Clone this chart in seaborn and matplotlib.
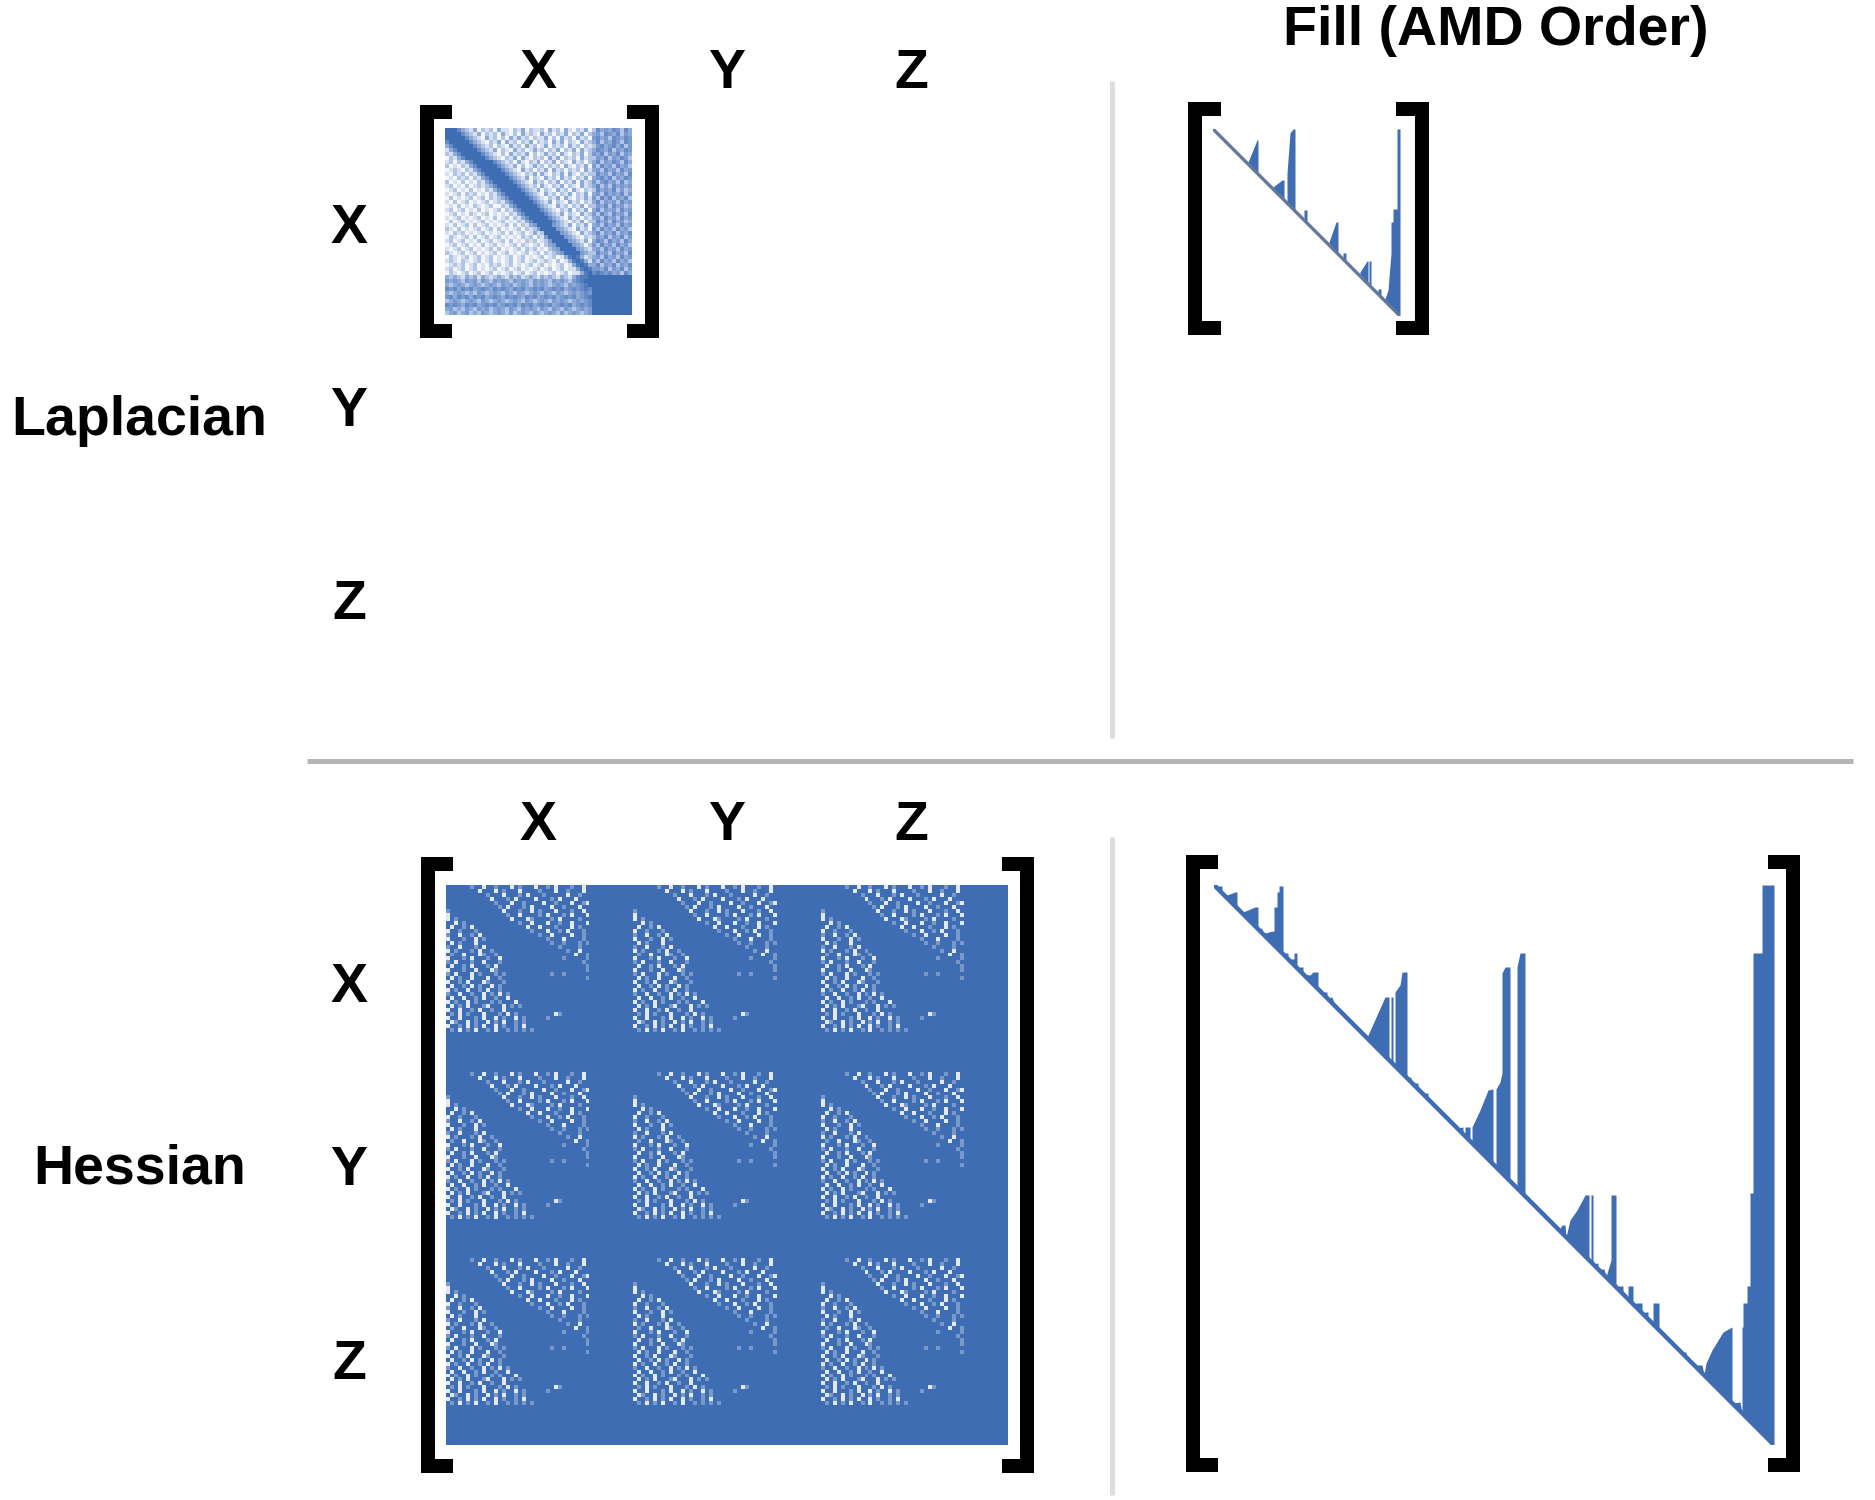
import numpy as np
import matplotlib
matplotlib.use('Agg')
import matplotlib.pyplot as plt
from matplotlib.colors import LinearSegmentedColormap
from matplotlib.patches import Rectangle
import seaborn as sns

BLUE = '#3f6db4'

# nonzero density of the Laplacian X block, 0-9 per cell
laplacian_rows = [
    "9997543524342533243524334253425324352" "4756576475",
    "9999754352434253242534325342435243524" "5647657465",
    "9999975432534242535342433524253425342" "6756476576",
    "7999997543243525342435243425352432534" "5746576476",
    "5799999754342432534253423524342534243" "4675675746",
    "3579999975435243253423534243524352534" "5765746576",
    "4357999997543242534352423534253243524" "6574657465",
    "2435799999754324352532434253524342534" "4657465764",
    "3424357999997543425324352435243253424" "5746576475",
    "4232435799999754352423534243425324352" "6475647564",
    "2343243579999975432534243525342434253" "5647564756",
    "3243424357999997543243525324352532434" "4756475647",
    "2324342435799999754352432534253424352" "5675746576",
    "4232423243579999975432534243524352534" "6467564745",
    "3423242343457999997543425324352432534" "5746475656",
    "2342324232435799999754352432534253243" "4756574645",
    "3234243423243579999975432534243524352" "5647565746",
    "2423234234243457999997543243525324353" "6475746574",
    "3242342323423435799999754352432534243" "5746564756",
    "2324232432342243579999975432534243524" "4657475645",
    "3423423242323424357999997543243524352" "5746564756",
    "2342324323423232435799999754352432534" "6475475647",
    "3234232342324234243579999975432534243" "5647564756",
    "2423423234232342324357999997543243524" "4756475645",
    "3242342423423234242435699996543524352" "5647564756",
    "4324232342342423234243469999654325342" "6475647564",
    "3243423234232342423423534999965432534" "5746574657",
    "2432342423423423232434243699996543243" "4657465746",
    "3423423242342342423243423469999654352" "5764756475",
    "2342342324234232342432342456999965424" "6475647564",
    "3234234232342423234243423245699996543" "5647564756",
    "4323423423234234232342342434569999654" "4756475647",
    "2432342342342323423423234234235898534" "5647564756",
    "3432432342342323423423423432423589853" "6475647564",
    "2343423423243423423234234232342358985" "5746574657",
    "3423423423234234234232342342342335898" "6657465746",
    "2432342342342323423423423234234233589" "7876756475",
    "5454354535434543545345435454354357889" "9999999999",
    "6565465646546565465654656546565467899" "9999999999",
    "5456545654565465645654656545654656789" "9999999999",
    "7675767567657676576756767567675676787" "9999999999",
    "5456545465456546546545654654654565676" "9999999999",
    "6757675767567657676576756767567675678" "9999999999",
    "4565456546545654565465456546565456567" "9999999999",
    "7676576756767567675767567675676756767" "9999999999",
    "5645465465645654654656546546546545656" "9999999999",
    "4564564546545654645654654565464565456" "9999999999",
]

# one Hessian block, speckled part only: '.' filled, '+' partly, 'o' empty
hessian_rows = [
    "......+..o..+...o.+...o..+.o...+..o..",
    "........o...o.+...o....+...o..+...o..",
    "..........+...o...+.o...+.....o..+...",
    "...........o...+.o....o...+.o...o....",
    "............+...o..+....o..+...o..+o.",
    ".............+.o...+.o....o..+...o...",
    "+.............o...+..o.+...o...+..o..",
    "o..............+..o....+.o...+.o...o.",
    "o.+.............o...o+....+.o....+...",
    "..o.+.............+..o...o..+..o...o.",
    ".o..+.o.............o..o...+...o.+...",
    "o..+...+.............+...o..+.o...+..",
    "+..o..+.o..............+..o....o..+..",
    "o...+..o.+...............+...o....+..",
    ".o.+...o..................+..+...+.+.",
    "+..o...+.o..................+....+...",
    "o.+...+.o..+..................+..o...",
    ".+..o...o+..+...................o..+.",
    "o...+.o...+..o...............+.....+.",
    "+.o...+..o...+....................+..",
    ".o..+.o...+.o......................+.",
    "o...+..o...o+......................+.",
    "+.o...o.+...+.+...........+..+.......",
    ".o.+..o...o..+.....................+.",
    "o..+.o...o+...+......................",
    ".o..+.o.+..o.+.......................",
    "o.+..o..+.o..+.......................",
    "+..o..+..o.+.o.+.....................",
    ".o..o..+.o..+..o.....................",
    "o.+..o.+...+.+...o...................",
    ".o.+.o...+o...o.+.+..................",
    "o..o..+.o..+..o......................",
    ".+.o.+...o...+.o.+.........o+........",
    "o..o...+.o..o.+..o.+.....+...........",
    ".o+..o.+..o.+.o..+.+.................",
    "o..+.o.+.o..o.+..+.o.................",
    ".+.o.+.o..+.o..+.+.+.+...............",
]
hessian_solid_band = 10
hessian_repeats = 3
cell_levels = {'.': 1.0, '+': 0.7, 'o': 0.15}

# fill profiles: column and first filled row
lap_fill_cols = [0, 35, 35, 44, 45, 45, 60, 60, 69, 71, 71, 74, 74, 77, 80, 82, 82, 91, 91, 94, 94,
                 116, 116, 123, 125, 125, 130, 130, 133, 133, 147, 147, 154, 155, 155, 156, 156, 158, 158,
                 165, 165, 168, 168, 172, 172, 175, 178, 178, 180, 180, 181, 184, 184, 187, 187]
lap_fill_tops = [0, 35, 33, 11, 11, 45, 60, 58, 51, 51, 71, 74, 44, 4, 0, 0, 82, 91, 81, 81, 94,
                 116, 113, 93, 93, 125, 130, 124, 124, 133, 147, 143, 132, 132, 155, 156, 132, 132, 158,
                 165, 160, 160, 168, 172, 170, 161, 124, 93, 93, 80, 80, 80, 0, 0, 187]

hess_fill_cols = [0, 8, 8, 13, 21, 23, 23, 29, 41, 44, 44, 48, 48, 51, 59, 60, 60, 63, 63, 65, 65, 69, 69,
                  70, 74, 74, 80, 80, 83, 83, 86, 89, 89, 96, 99, 104, 104, 109, 113, 113, 118, 120, 153,
                  154, 171, 175, 175, 177, 177, 179, 179, 181, 181, 186, 188, 193, 193,
                  197, 197, 199, 204, 204, 209, 214, 214, 243, 249, 249, 251, 251, 256, 256, 258, 258,
                  266, 274, 279, 279, 282, 282, 286, 288, 288, 291, 296, 296, 303, 303, 306, 311, 311,
                  316, 320, 345, 348, 351, 352, 356, 363, 371, 375, 375, 377, 377, 379, 379,
                  384, 384, 388, 390, 392, 394, 397, 397, 402, 402, 404, 409, 409, 414, 414, 419, 419,
                  423, 428, 428, 432, 434, 434, 439, 439, 445, 445, 469, 472, 472, 481, 488, 490,
                  492, 498, 509, 518, 518, 526, 528, 528, 529, 529, 533, 533, 536, 536, 539, 539, 548, 548, 560, 560]
hess_fill_tops = [1, 1, 8, 10, 7, 7, 23, 27, 22, 22, 44, 43, 48, 48, 46, 46, 22, 22, 7, 7, 1, 1, 69,
                  68, 68, 74, 74, 68, 68, 83, 82, 82, 89, 90, 87, 87, 104, 107, 107, 113, 112, 118, 153,
                  150, 112, 112, 175, 177, 112, 112, 179, 181, 107, 100, 87, 87, 193,
                  192, 197, 198, 198, 204, 208, 208, 214, 243, 242, 249, 251, 242, 242, 256, 258, 242,
                  225, 205, 204, 279, 282, 204, 197, 188, 88, 82, 82, 296, 303, 82, 68, 68, 311,
                  315, 320, 345, 340, 340, 352, 335, 325, 310, 310, 375, 377, 310, 310, 379,
                  378, 384, 384, 384, 392, 385, 375, 310, 310, 402, 401, 401, 409, 414, 401, 401, 419,
                  418, 418, 428, 427, 427, 434, 439, 418, 418, 445, 467, 467, 472, 480, 480, 490,
                  478, 465, 447, 442, 518, 517, 528, 442, 442, 418, 418, 401, 401, 308, 308, 68, 68, 0, 0, 560]

col_labels = ['X', 'Y', 'Z']
row_labels = ['X', 'Y', 'Z']

W, H = 1875, 1500
sns.set_theme(style='white')
plt.rcParams['font.family'] = ['Liberation Sans', 'DejaVu Sans']

fig = plt.figure(figsize=(W / 100, H / 100), dpi=100, facecolor='white')


def px_axes(x0, y0, x1, y1):
    return fig.add_axes([x0 / W, 1 - y1 / H, (x1 - x0) / W, (y1 - y0) / H])


def draw_bracket(ax, x0, x1, y0, y1, left=True, t=14):
    if left:
        ax.add_patch(Rectangle((x0, y0), t, y1 - y0, color='black', lw=0))
    else:
        ax.add_patch(Rectangle((x1 - t, y0), t, y1 - y0, color='black', lw=0))
    ax.add_patch(Rectangle((x0, y0), x1 - x0, t, color='black', lw=0))
    ax.add_patch(Rectangle((x0, y1 - t), x1 - x0, t, color='black', lw=0))


def draw_spy(cells, box, cmap):
    ax = px_axes(*box)
    sns.heatmap(cells, ax=ax, cmap=cmap, vmin=0, vmax=1, cbar=False,
                xticklabels=False, yticklabels=False, linewidths=0, rasterized=True)
    return ax


def draw_fill(cols, tops, n, box, line_color, lw):
    ax = px_axes(*box)
    ax.fill_between(cols, tops, cols, color=BLUE, lw=0)
    sns.lineplot(x=[0, n], y=[0, n], ax=ax, color=line_color, lw=lw)
    ax.set_xlim(0, n)
    ax.set_ylim(n, 0)
    ax.axis('off')
    return ax


spy_cmap = LinearSegmentedColormap.from_list('spy', ['white', BLUE])
lap_cmap = LinearSegmentedColormap.from_list(
    'lap', [(0, 'white'), (0.25, '#f2f5fb'), (0.55, '#8fabd8'), (1, BLUE)])

# background axes in pixels for labels, rules and brackets
bg = fig.add_axes([0, 0, 1, 1])
bg.set_xlim(0, W)
bg.set_ylim(H, 0)
bg.axis('off')

bg.plot([1112, 1112], [81, 738], color='#dddddd', lw=3.6, solid_capstyle='butt')
bg.plot([1112, 1112], [837, 1495], color='#dddddd', lw=3.6, solid_capstyle='butt')
bg.plot([307, 1853], [761, 761], color='#b5b5b5', lw=3.6, solid_capstyle='butt')

draw_bracket(bg, 420, 452, 105, 338, left=True)
draw_bracket(bg, 627, 659, 105, 338, left=False)
draw_bracket(bg, 1188, 1221, 102, 335, left=True)
draw_bracket(bg, 1396, 1429, 102, 335, left=False)
draw_bracket(bg, 421, 453, 857, 1473, left=True)
draw_bracket(bg, 1002, 1034, 857, 1473, left=False)
draw_bracket(bg, 1186, 1218, 855, 1472, left=True)
draw_bracket(bg, 1768, 1800, 855, 1472, left=False)

font = dict(fontsize=40, fontweight='bold', color='black', ha='center', va='baseline')
bg.text(1496, 45, 'Fill (AMD Order)', **font)
bg.text(139, 435, 'Laplacian', **font)
bg.text(140, 1183, 'Hessian', **font)
for lab, x in zip(col_labels, [538, 727, 911]):
    bg.text(x, 88, lab, **font)
    bg.text(x, 840, lab, **font)
for lab, y in zip(row_labels, [243, 426, 619]):
    bg.text(349, y, lab, **font)
for lab, y in zip(row_labels, [1002, 1185, 1379]):
    bg.text(349, y, lab, **font)

laplacian_cells = np.array([[int(c) / 9 for c in row] for row in laplacian_rows])
draw_spy(laplacian_cells, (445, 128, 632, 315), lap_cmap)

block = np.array([[cell_levels[c] for c in row] for row in hessian_rows])
block = np.pad(block, ((0, hessian_solid_band), (0, hessian_solid_band)), constant_values=1.0)
hessian_cells = np.tile(block, (hessian_repeats, hessian_repeats))
draw_spy(hessian_cells, (446, 885, 1008, 1445), spy_cmap)

draw_fill(lap_fill_cols, lap_fill_tops, 187, (1213, 129, 1400, 316), '#64789a', 2.4)
draw_fill(hess_fill_cols, hess_fill_tops, 560, (1214, 885, 1774, 1445), BLUE, 3.2)

fig.savefig('out.png', dpi=100, facecolor='white')
